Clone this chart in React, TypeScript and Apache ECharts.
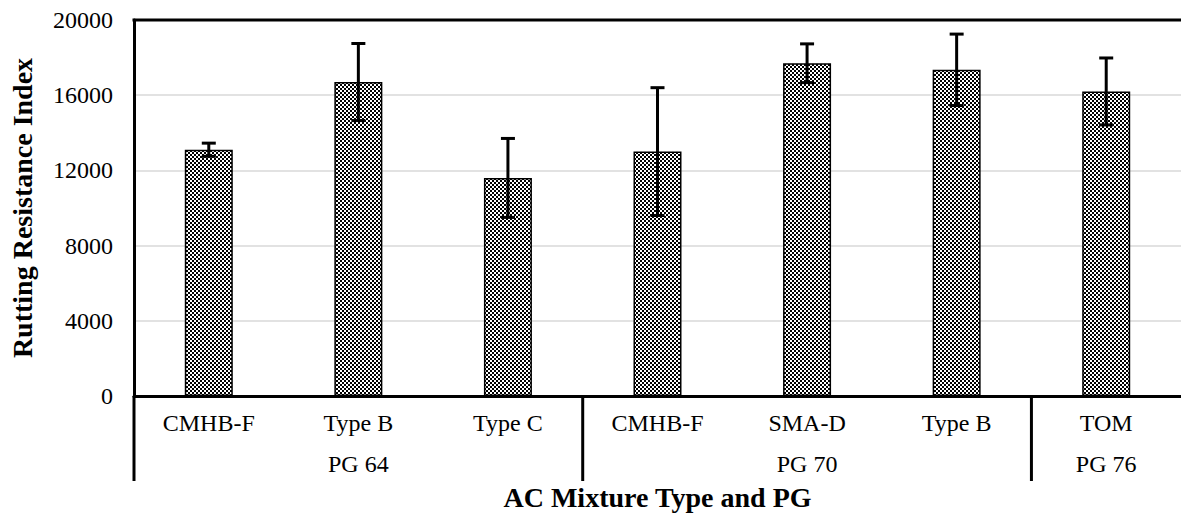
import React, { useEffect, useRef } from "react";
import * as echarts from "echarts";

const categories = ["CMHB-F", "Type B", "Type C", "CMHB-F", "SMA-D", "Type B", "TOM"];
const groupLabels = ["", "PG 64", "", "", "PG 70", "", "PG 76"];
const groupStarts = [0, 3, 6];
const values = [13100, 16700, 11600, 13000, 17700, 17350, 16200];
const errors = [350, 2050, 2100, 3400, 1030, 1900, 1780];
const yMin = 0;
const yMax = 20000;
const yInterval = 4000;
const yTitle = "Rutting Resistance Index";
const xTitle = "AC Mixture Type and PG";

const FONT = "'Liberation Serif', 'Times New Roman', serif";

function makePattern(): HTMLCanvasElement {
  const c = document.createElement("canvas");
  c.width = 4;
  c.height = 4;
  const ctx = c.getContext("2d")!;
  ctx.fillStyle = "#ffffff";
  ctx.fillRect(0, 0, 4, 4);
  ctx.fillStyle = "#000000";
  ctx.fillRect(0, 0, 2, 2);
  ctx.fillRect(2, 2, 2, 2);
  return c;
}

export default function App() {
  const ref = useRef<HTMLDivElement>(null);
  useEffect(() => {
    if (!ref.current) return;
    const chart = echarts.init(ref.current, undefined, { renderer: "svg" });
    const pattern = makePattern();
    chart.setOption({
      animation: false,
      backgroundColor: "#ffffff",
      grid: { left: 125, top: 20, width: 1061, height: 376, containLabel: false },
      xAxis: [
        {
          type: "category",
          data: categories,
          position: "bottom",
          axisLine: { show: true, lineStyle: { color: "#000", width: 3 } },
          axisTick: { show: false },
          axisLabel: { fontFamily: FONT, fontSize: 24, color: "#000", margin: 15, interval: 0 },
          splitLine: { show: false },
        },
        {
          type: "category",
          data: groupLabels,
          position: "bottom",
          offset: 40,
          axisLine: { show: false },
          axisTick: { show: false },
          axisLabel: { fontFamily: FONT, fontSize: 24, color: "#000", margin: 16, interval: 0 },
        },
      ],
      yAxis: {
        type: "value",
        min: yMin,
        max: yMax,
        interval: yInterval,
        name: yTitle,
        nameLocation: "middle",
        nameGap: 98,
        nameTextStyle: { fontFamily: FONT, fontSize: 28, fontWeight: "bold", color: "#000" },
        axisLine: { show: true, lineStyle: { color: "#000", width: 3 } },
        axisTick: { show: false },
        axisLabel: {
          fontFamily: FONT,
          fontSize: 24,
          color: "#000",
          margin: 21,
          formatter: (v: number) => String(v),
        },
        splitLine: { show: true, lineStyle: { color: "#d9d9d9", width: 1.5 } },
      },
      series: [
        {
          type: "bar",
          data: values,
          barWidth: 48,
          itemStyle: {
            color: { image: pattern, repeat: "repeat" },
            borderColor: "#000",
            borderWidth: 1.5,
          },
        },
        {
          type: "custom",
          data: values.map((v, i) => [i, v - errors[i], v + errors[i]]),
          z: 10,
          renderItem: (params: any, api: any) => {
            const x = api.value(0);
            const lo = api.coord([x, api.value(1)]);
            const hi = api.coord([x, api.value(2)]);
            const w = 7;
            const st = { stroke: "#000", lineWidth: 3 };
            return {
              type: "group",
              children: [
                { type: "line", shape: { x1: hi[0], y1: hi[1], x2: lo[0], y2: lo[1] }, style: st },
                { type: "line", shape: { x1: hi[0] - w, y1: hi[1], x2: hi[0] + w, y2: hi[1] }, style: st },
                { type: "line", shape: { x1: lo[0] - w, y1: lo[1], x2: lo[0] + w, y2: lo[1] }, style: st },
              ],
            };
          },
        },
      ],
    });

    const p0 = chart.convertToPixel({ xAxisIndex: 0 }, 0) as number;
    const p1 = chart.convertToPixel({ xAxisIndex: 0 }, 1) as number;
    const bw = p1 - p0;
    const yZero = chart.convertToPixel({ yAxisIndex: 0 }, yMin) as number;
    const yTop = chart.convertToPixel({ yAxisIndex: 0 }, yMax) as number;
    const left = p0 - bw / 2;
    const right = left + bw * categories.length;
    const sepBottom = yZero + 85;
    const graphics: any[] = groupStarts.map((b) => {
      const x = p0 + b * bw - bw / 2;
      return {
        type: "line",
        shape: { x1: x, y1: yZero, x2: x, y2: sepBottom },
        style: { stroke: "#000", lineWidth: 3 },
      };
    });
    graphics.push({
      type: "line",
      shape: { x1: left - 1.5, y1: yTop, x2: right, y2: yTop },
      style: { stroke: "#000", lineWidth: 3 },
    });
    graphics.push({
      type: "text",
      x: (left + right) / 2,
      y: yZero + 101,
      style: {
        text: xTitle,
        fontFamily: FONT,
        fontSize: 28,
        fontWeight: "bold",
        fill: "#000",
        align: "center",
        verticalAlign: "middle",
      },
    });
    chart.setOption({ graphic: graphics });

    return () => chart.dispose();
  }, []);
  return (
    <div
      ref={ref}
      style={{ position: "absolute", left: 0, top: 0, width: 1181, height: 514 }}
    />
  );
}
